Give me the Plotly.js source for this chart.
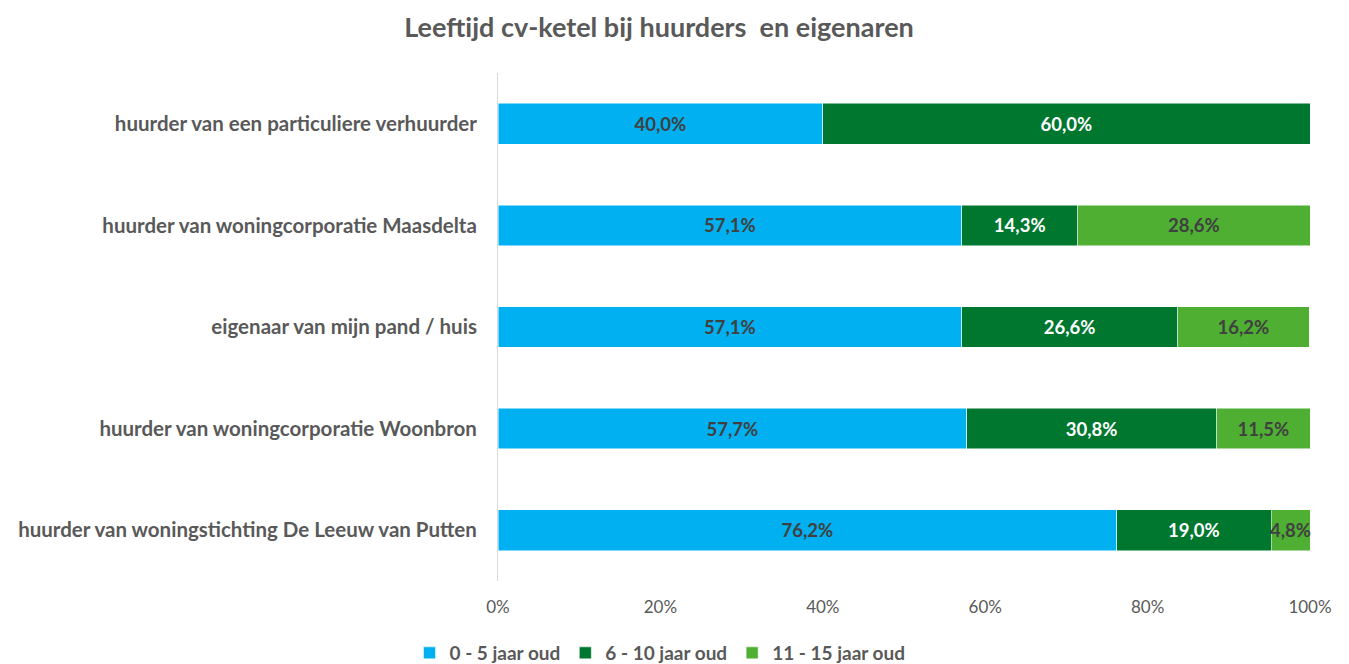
<!DOCTYPE html>
<html>
<head>
<meta charset="utf-8">
<script src="https://cdn.plot.ly/plotly-3.0.1.min.js"></script>
<style>html,body{margin:0;padding:0;background:#fff}#chart{width:1349px;height:664px}</style>
</head>
<body>
<div id="chart"></div>
<script>
const categories = [
  "huurder van een particuliere verhuurder",
  "huurder van woningcorporatie Maasdelta",
  "eigenaar van mijn pand / huis",
  "huurder van woningcorporatie Woonbron",
  "huurder van woningstichting De Leeuw van Putten"
];
const seriesNames = ["0 - 5 jaar oud", "6 - 10 jaar oud", "11 - 15 jaar oud"];
const age0to5 = [40.0, 57.1, 57.1, 57.7, 76.2];
const age6to10 = [60.0, 14.3, 26.6, 30.8, 19.0];
const age11to15 = [0, 28.6, 16.2, 11.5, 4.8];
const xTicks = [0, 20, 40, 60, 80, 100];

const colors = ["#00B0F0", "#00772F", "#4EAF33"];
const textColors = ["#404040", "#FFFFFF", "#404040"];
const fmt = v => v > 0 ? v.toFixed(1).replace('.', ',') + '%' : '';
const labelFont = "Lato, 'Open Sans', sans-serif";

const data = [age0to5, age6to10, age11to15].map((vals, i) => ({
  type: 'bar',
  orientation: 'h',
  name: seriesNames[i],
  y: categories,
  x: vals,
  text: vals.map(fmt),
  textposition: 'inside',
  insidetextanchor: 'middle',
  textangle: 0,
  constraintext: 'none',
  textfont: {family: labelFont, size: 18.5, color: textColors[i], weight: 'bold'},
  marker: {color: colors[i], line: {color: '#FFFFFF', width: 0.5}},
  hoverinfo: 'x+y+name',
  cliponaxis: false
}));

const layout = {
  width: 1349, height: 664,
  paper_bgcolor: '#FFFFFF', plot_bgcolor: '#FFFFFF',
  barmode: 'stack',
  bargap: 0.6,
  margin: {l: 498, r: 39, t: 73, b: 83},
  font: {family: labelFont, color: '#595959'},
  title: {
    text: '<b>Leeftijd cv-ketel bij huurders  en eigenaren</b>',
    font: {family: labelFont, size: 27, color: '#595959'},
    x: 659/1349, xref: 'container', xanchor: 'center',
    y: 1 - 28/664, yref: 'container', yanchor: 'middle'
  },
  xaxis: {
    range: [0, 100],
    tickvals: xTicks,
    ticktext: xTicks.map(t => t + '%'),
    showgrid: false, zeroline: false, showline: false,
    ticks: '', ticklabelstandoff: 14,
    tickfont: {family: labelFont, size: 17, color: '#595959'},
    fixedrange: true
  },
  yaxis: {
    categoryorder: 'array', categoryarray: categories,
    autorange: 'reversed',
    showgrid: false, zeroline: false,
    showline: true, linecolor: '#D9D9D9', linewidth: 1,
    ticks: '', ticklabelstandoff: 16,
    tickfont: {family: labelFont, size: 20.5, color: '#595959', weight: 'bold'},
    fixedrange: true
  },
  showlegend: true,
  legend: {
    orientation: 'h',
    xref: 'container', x: 660/1349, xanchor: 'center',
    yref: 'container', y: 1 - 653/664, yanchor: 'middle',
    font: {family: labelFont, size: 19, color: '#595959', weight: 'bold'},
    itemwidth: 30,
    traceorder: 'normal'
  }
};

Plotly.newPlot('chart', data, layout, {displayModeBar: false, responsive: false});
</script>
</body>
</html>
